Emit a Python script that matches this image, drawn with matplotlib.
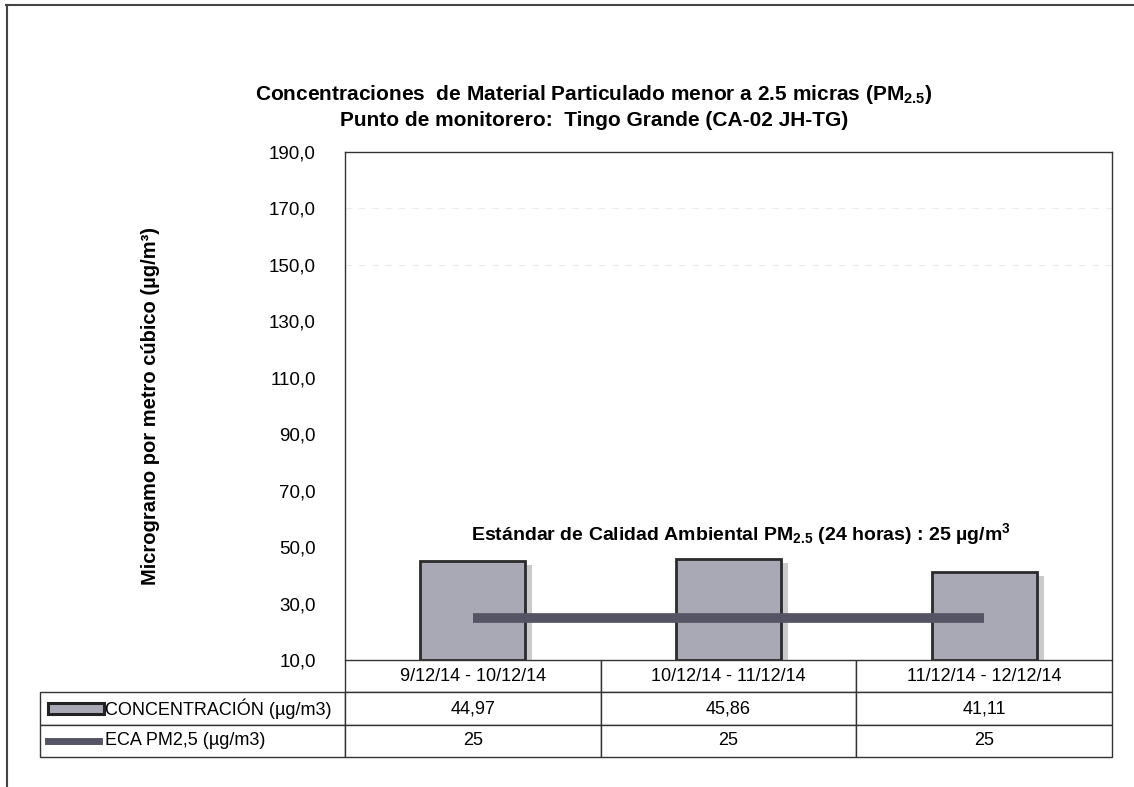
import matplotlib
matplotlib.use("Agg")
import matplotlib.pyplot as plt
import matplotlib.patheffects as pe
from matplotlib.table import Table
from matplotlib.lines import Line2D
from matplotlib.patches import Rectangle

plt.rcParams["font.family"] = ["Liberation Sans", "DejaVu Sans"]
plt.rcParams["mathtext.default"] = "regular"

# Data
periods = ["9/12/14 - 10/12/14", "10/12/14 - 11/12/14", "11/12/14 - 12/12/14"]
concentration = [44.97, 45.86, 41.11]
eca_standard = [25, 25, 25]
row_labels = ["CONCENTRACIÓN (µg/m3)", "ECA PM2,5 (µg/m3)"]
y_ticks = [10, 30, 50, 70, 90, 110, 130, 150, 170, 190]

W, H = 1134, 787
fig = plt.figure(figsize=(W / 100, H / 100), dpi=100)
ax = fig.add_axes([345 / W, 1 - 660 / H, 767 / W, 508 / H])

x = list(range(len(periods)))
bar_color = "#a9a9b6"
ax.bar(x, [c - 10 for c in concentration], bottom=10, width=0.41, color=bar_color,
       edgecolor="#2b2b2b", linewidth=2, zorder=2,
       path_effects=[pe.SimplePatchShadow(offset=(5, -3), shadow_rgbFace="0.6", alpha=0.5),
                     pe.Normal()])
line_color = "#545464"
ax.plot(x, eca_standard, color=line_color, linewidth=7, solid_capstyle="butt", zorder=3)

ax.set_xlim(-0.5, 2.5)
ax.set_ylim(10, 190)
ax.set_yticks(y_ticks)
ax.set_yticklabels([f"{v:.1f}".replace(".", ",") for v in y_ticks], fontsize=13.5)
ax.set_xticks([])
ax.tick_params(axis="y", length=0, pad=21)
for s in ["left", "top", "right"]:
    ax.spines[s].set_color("#333333")
    ax.spines[s].set_linewidth(1.0)
ax.spines["bottom"].set_visible(False)
for v in [150, 170]:
    ax.axhline(v, color="#ececec", linewidth=0.8, linestyle=(0, (6, 6)), zorder=0)

ax.set_ylabel("Microgramo por metro cúbico (µg/m³)", fontsize=14.5, fontweight="bold")
ax.yaxis.set_label_coords((160 - 345) / 767, 0.5)

ax.text(1.05, 54.6, "Estándar de Calidad Ambiental PM$_{2.5}$ (24 horas) : 25 µg/m$^{3}$",
        ha="center", va="center", fontsize=14, fontweight="bold", zorder=4)

fig.text(594 / W, 1 - 95 / H,
         "Concentraciones  de Material Particulado menor a 2.5 micras (PM$_{2.5}$)",
         ha="center", va="center", fontsize=15, fontweight="bold")
fig.text(594 / W, 1 - 121 / H, "Punto de monitorero:  Tingo Grande (CA-02 JH-TG)",
         ha="center", va="center", fontsize=15, fontweight="bold")

# Data table under the plot (bbox covers the data cells; labels sit to the left)
tab = Table(ax, bbox=[0, (660 - 757) / 508, 1, 97 / 508])
lab_w = 305 / 767
col_w = 1 / 3
row_h = 1 / 3
for j, p in enumerate(periods):
    tab.add_cell(0, j, width=col_w, height=row_h, text=p, loc="center")
for i, (lab, vals) in enumerate(zip(row_labels, [concentration, eca_standard])):
    tab.add_cell(i + 1, -1, width=lab_w, height=row_h, text=lab, loc="left")
    for j, v in enumerate(vals):
        txt = f"{v:.2f}".replace(".", ",") if isinstance(v, float) else str(v)
        tab.add_cell(i + 1, j, width=col_w, height=row_h, text=txt, loc="center")
tab.auto_set_font_size(False)
tab.set_fontsize(13)
for (r, c), cell in tab.get_celld().items():
    cell.set_edgecolor("#333333")
    cell.set_linewidth(1.0)
    if c == -1:
        cell.PAD = 65 / 305
ax.add_table(tab)

# Legend keys inside the row labels
fig.patches.append(Rectangle((48 / W, 1 - 714 / H), 56 / W, 11 / H, transform=fig.transFigure,
                             facecolor=bar_color, edgecolor="#222222", linewidth=2.2))
fig.lines.append(Line2D([48 / W, 99 / W], [1 - 741 / H, 1 - 741 / H], transform=fig.transFigure,
                        color=line_color, linewidth=5))

# Outer frame
fig.lines.append(Line2D([6 / W, 1], [1 - 5 / H, 1 - 5 / H], transform=fig.transFigure,
                        color="#444444", linewidth=1.5))
fig.lines.append(Line2D([7 / W, 7 / W], [1 - 5 / H, 0], transform=fig.transFigure,
                        color="#444444", linewidth=1.5))

fig.savefig("out.png", dpi=100)
